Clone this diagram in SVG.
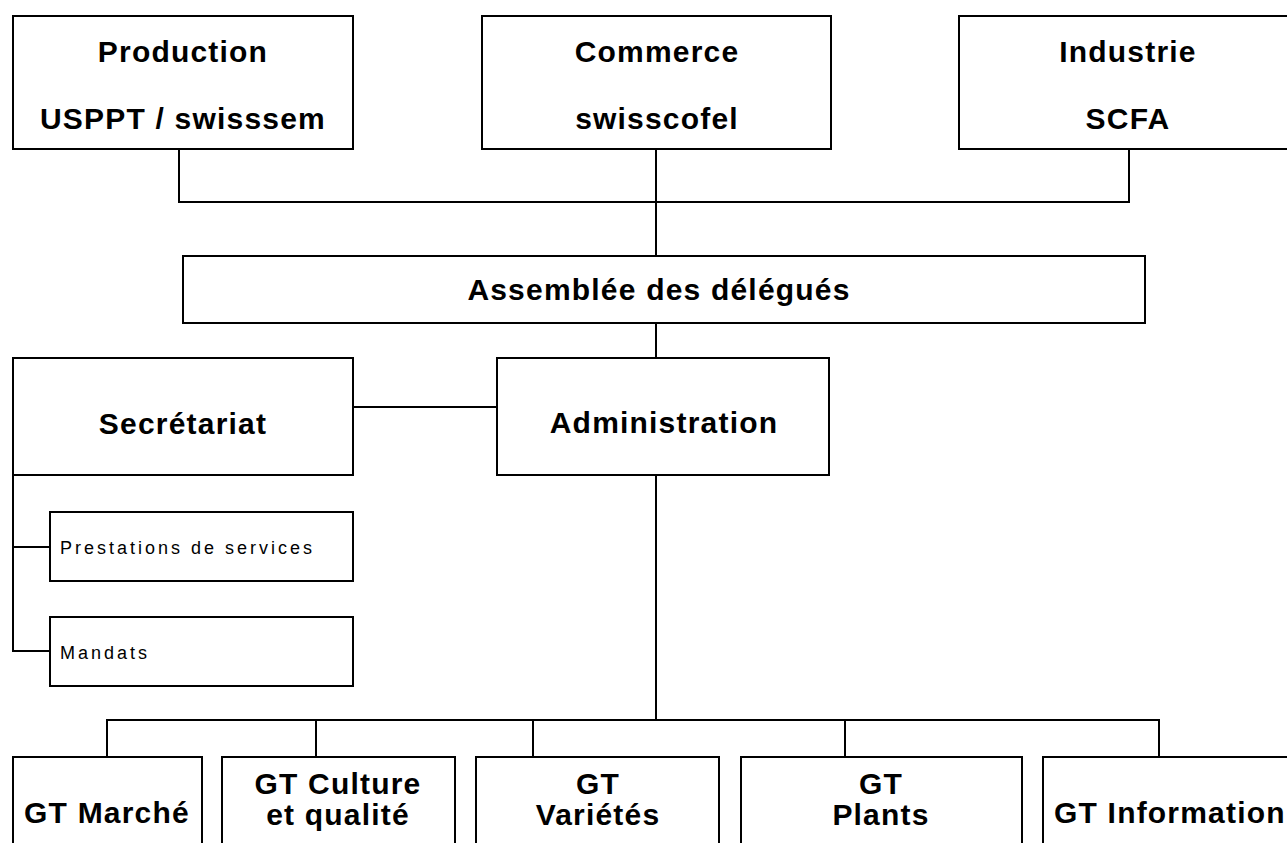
<svg xmlns="http://www.w3.org/2000/svg" width="1287" height="843" viewBox="0 0 1287 843">
<style>
  .box { fill: #ffffff; stroke: #000000; stroke-width: 2; }
  .conn { fill: none; stroke: #000000; stroke-width: 2; }
  .big { font-family: "Liberation Sans", Arial, sans-serif; font-weight: bold; font-size: 30px; letter-spacing: 1.2px; fill: #000000; text-anchor: middle; }
  .small { font-family: "Liberation Sans", Arial, sans-serif; font-size: 18px; letter-spacing: 3px; fill: #000000; }
</style>
<rect width="1287" height="843" fill="#ffffff"/>
<g id="connectors">
  <polyline class="conn" points="179,149 179,202 1129,202 1129,149"/>
  <line class="conn" x1="656" y1="149" x2="656" y2="256"/>
  <line class="conn" x1="656" y1="323" x2="656" y2="358"/>
  <line class="conn" x1="353" y1="407" x2="497" y2="407"/>
  <polyline class="conn" points="13,475 13,651 50,651"/>
  <line class="conn" x1="13" y1="547" x2="50" y2="547"/>
  <line class="conn" x1="656" y1="475" x2="656" y2="720"/>
  <polyline class="conn" points="107,757 107,720 1159,720 1159,757"/>
  <line class="conn" x1="316" y1="720" x2="316" y2="757"/>
  <line class="conn" x1="533" y1="720" x2="533" y2="757"/>
  <line class="conn" x1="845" y1="720" x2="845" y2="757"/>
</g>
<g id="production">
  <rect class="box" x="13" y="16" width="340" height="133"/>
  <text class="big" x="183" y="62">Production</text>
  <text class="big" x="183" y="129">USPPT / swisssem</text>
</g>
<g id="commerce">
  <rect class="box" x="482" y="16" width="349" height="133"/>
  <text class="big" x="657" y="62">Commerce</text>
  <text class="big" x="657" y="129">swisscofel</text>
</g>
<g id="industrie">
  <rect class="box" x="959" y="16" width="340" height="133"/>
  <text class="big" x="1128" y="62">Industrie</text>
  <text class="big" x="1128" y="129">SCFA</text>
</g>
<g id="assemblee">
  <rect class="box" x="183" y="256" width="962" height="67"/>
  <text class="big" x="659" y="300">Assemblée des délégués</text>
</g>
<g id="secretariat">
  <rect class="box" x="13" y="358" width="340" height="117"/>
  <text class="big" x="183" y="434">Secrétariat</text>
</g>
<g id="administration">
  <rect class="box" x="497" y="358" width="332" height="117"/>
  <text class="big" x="664" y="433">Administration</text>
</g>
<g id="prestations">
  <rect class="box" x="50" y="512" width="303" height="69"/>
  <text class="small" x="60" y="554">Prestations de services</text>
</g>
<g id="mandats">
  <rect class="box" x="50" y="617" width="303" height="69"/>
  <text class="small" x="60" y="659">Mandats</text>
</g>
<g id="gt-marche">
  <rect class="box" x="13" y="757" width="189" height="110"/>
  <text class="big" x="107" y="823">GT Marché</text>
</g>
<g id="gt-culture">
  <rect class="box" x="222" y="757" width="233" height="110"/>
  <text class="big" x="338" y="794">GT Culture</text>
  <text class="big" x="338" y="825">et qualité</text>
</g>
<g id="gt-varietes">
  <rect class="box" x="476" y="757" width="243" height="110"/>
  <text class="big" x="598" y="794">GT</text>
  <text class="big" x="598" y="825">Variétés</text>
</g>
<g id="gt-plants">
  <rect class="box" x="741" y="757" width="281" height="110"/>
  <text class="big" x="881" y="794">GT</text>
  <text class="big" x="881" y="825">Plants</text>
</g>
<g id="gt-information">
  <rect class="box" x="1043" y="757" width="260" height="110"/>
  <text class="big" x="1054" y="823" style="text-anchor:start">GT Information</text>
</g>
</svg>
